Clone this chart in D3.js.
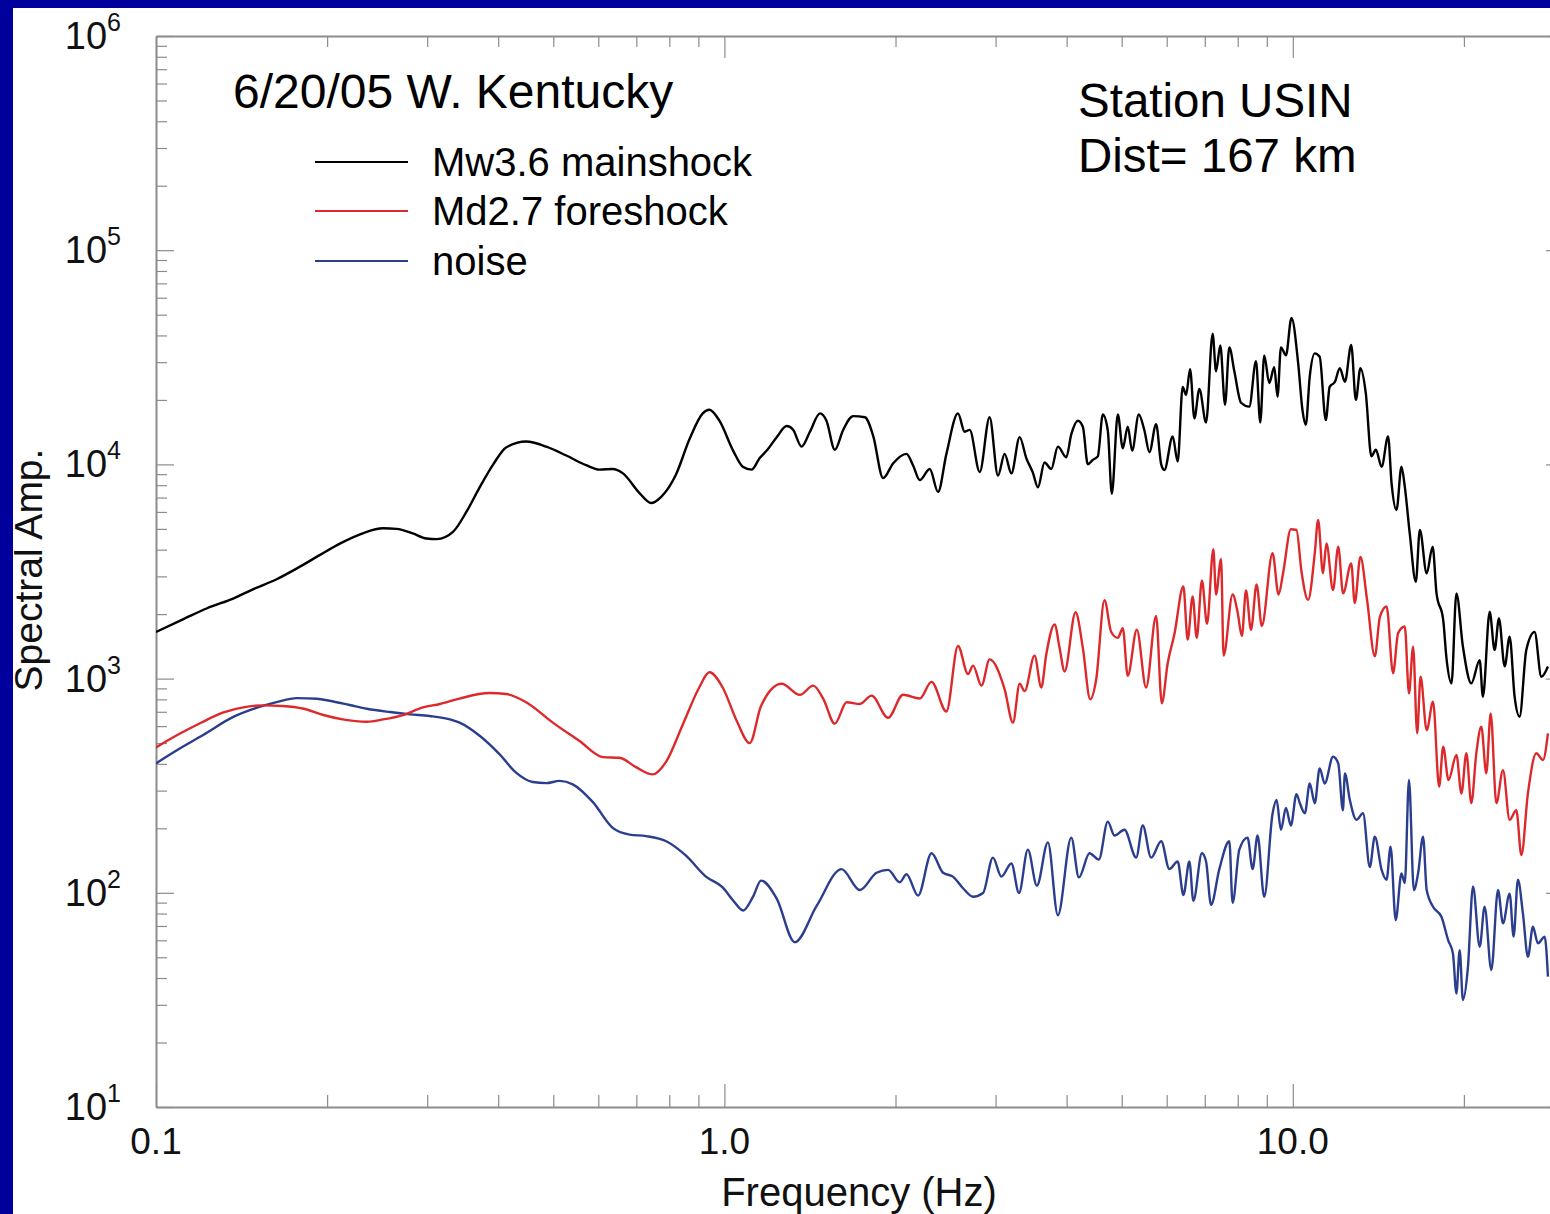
<!DOCTYPE html>
<html><head><meta charset="utf-8">
<script src="https://cdn.jsdelivr.net/npm/d3@7"></script>
<style>html,body{margin:0;padding:0;background:#00009c;overflow:hidden;} svg{display:block;}</style>
</head><body>
<svg id="chart" width="1550" height="1214"></svg>
<script>
// ---------- data (frequency in Hz, spectral amplitude) ----------
const mainFreq = [0.100,0.112,0.123,0.137,0.148,0.163,0.177,0.194,0.211,0.231,
0.251,0.265,0.283,0.299,0.312,0.333,0.352,0.371,0.392,0.413,
0.448,0.486,0.527,0.571,0.603,0.636,0.663,0.709,0.743,0.774,
0.822,0.868,0.916,0.941,0.980,1.036,1.079,1.116,1.154,1.187,
1.236,1.287,1.321,1.367,1.414,1.473,1.512,1.564,1.618,1.685,
1.767,1.827,1.902,1.980,2.091,2.147,2.206,2.298,2.376,2.458,
2.576,2.647,2.701,2.813,2.928,3.029,3.112,3.198,3.307,3.397,
3.489,3.561,3.658,3.759,3.861,3.995,4.076,4.187,4.272,4.359,
4.448,4.539,4.632,4.726,4.804,4.922,5.022,5.124,5.216,5.358,
5.482,5.594,5.748,5.868,5.944,6.147,6.273,6.401,6.490,6.596,
6.712,6.849,7.037,7.227,7.327,7.455,7.599,7.732,7.891,8.108,
8.383,8.615,8.765,8.907,9.089,9.276,9.400,9.531,9.725,9.947,
10.22,10.40,10.54,10.71,10.93,11.15,11.43,11.61,11.86,12.10,
12.35,12.67,12.91,13.15,13.44,13.75,14.00,14.33,14.71,14.92,
15.22,15.53,15.74,16.06,16.46,16.73,17.20,17.62,17.90,18.39,
18.64,19.02,19.40,19.92,20.61,21.32,21.60,22.20,22.65,23.05,
23.59,24.07,24.56,25.06,25.75,26.63,27.37,28.11];
const mainAmp = [1650,1900,2130,2370,2610,2910,3270,3770,4280,4770,
5030,5000,4760,4510,4480,4840,6030,7810,10000,12000,
12800,12100,11000,9910,9450,9520,9080,7350,6600,7060,
8980,13100,17300,18000,16000,11600,9720,9450,10700,11600,
13400,15100,14500,12100,14200,17300,16000,11700,14500,16800,
16600,13600,8630,10100,11200,9910,8450,9520,7440,11200,
17300,14200,14500,9220,16600,8860,11200,9080,13400,10700,
9150,7810,10200,9520,12100,10800,13800,16000,15000,10000,
10500,10900,17100,14400,7300,17100,11900,15000,11600,17100,
14400,11400,15400,10000,9410,13500,10300,23000,21100,27800,
16400,22500,15700,40800,27200,35900,19000,35200,27200,19400,
18600,30300,15700,32300,24000,28400,20700,35200,32300,48300,
29600,17900,15300,25700,33000,31800,16100,23000,24300,28100,
24300,36100,20000,28100,21500,10900,11700,9750,13500,8160,
6120,9750,7870,4760,2830,4940,3100,4130,2500,1880,
1240,950,2500,1410,950,1220,823,2050,1360,1910,
1140,1570,823,664,1360,1650,1020,1140];

const foreFreq = [0.100,0.109,0.120,0.131,0.144,0.154,0.167,0.182,0.197,0.213,
0.235,0.251,0.272,0.295,0.316,0.342,0.386,0.413,0.448,0.499,
0.556,0.611,0.654,0.699,0.748,0.790,0.845,0.903,0.941,0.993,
1.051,1.108,1.160,1.261,1.358,1.433,1.492,1.564,1.641,1.731,
1.815,1.941,2.062,2.206,2.314,2.458,2.576,2.683,2.738,2.833,
2.928,3.112,3.219,3.307,3.374,3.513,3.610,3.684,3.810,3.888,
3.967,4.148,4.272,4.401,4.509,4.663,4.792,4.922,5.022,5.124,
5.316,5.520,5.748,5.882,6.024,6.190,6.419,6.532,6.665,6.776,
6.920,7.065,7.247,7.327,7.478,7.555,7.836,7.997,8.135,8.273,
8.442,8.636,8.820,9.212,9.439,9.616,9.923,10.15,10.36,10.64,
10.93,11.08,11.30,11.46,11.77,12.02,12.26,12.67,12.85,13.15,
13.51,13.94,14.23,14.62,15.01,15.32,15.74,16.01,16.28,16.55,
16.78,17.20,17.65,18.09,18.39,18.79,19.40,19.80,20.20,20.61,
21.03,21.46,21.90,22.29,22.81,23.43,24.07,24.73,25.24,25.92,
26.82,27.55,28.11];
const foreAmp = [477,545,622,693,738,750,745,723,676,645,
629,645,676,734,761,807,856,847,776,623,
511,430,427,386,357,410,611,909,1070,909,
636,500,745,946,840,927,807,616,776,761,
833,656,840,807,965,702,1420,1050,1150,927,
1230,891,623,946,874,1280,909,1300,1790,1390,
1080,2040,1390,801,991,2320,1650,1550,1720,1030,
1690,909,1960,767,1180,1610,2690,1520,2420,1550,
2870,1800,4020,2470,3620,1280,2470,2040,1580,2580,
1690,2750,1760,3850,2470,3120,4980,4940,3150,2330,
3840,5500,3100,4280,2590,4130,2500,3450,2250,3700,
2330,1270,1940,2170,1060,1630,1750,853,1410,555,
1020,575,780,313,481,336,440,291,448,262,
448,596,361,688,262,374,219,243,150,291,
448,417,555];

const noiseFreq = [0.100,0.109,0.121,0.137,0.152,0.163,0.177,0.192,0.202,0.219,
0.235,0.258,0.280,0.303,0.329,0.342,0.371,0.402,0.430,0.460,
0.486,0.513,0.541,0.587,0.636,0.681,0.728,0.790,0.856,0.928,
0.993,1.036,1.079,1.123,1.160,1.236,1.330,1.453,1.607,1.731,
1.852,1.941,2.035,2.091,2.191,2.314,2.425,2.524,2.629,2.738,
2.851,2.968,3.071,3.198,3.298,3.419,3.546,3.708,3.861,4.076,
4.204,4.389,4.558,4.726,4.856,5.056,5.302,5.445,5.633,5.868,
6.065,6.273,6.419,6.577,6.684,6.920,7.037,7.180,7.426,7.732,
7.836,8.052,8.326,8.497,8.670,8.907,9.212,9.363,9.531,9.725,
9.923,10.15,10.29,10.50,10.71,10.93,11.15,11.38,11.77,12.02,
12.25,12.35,12.60,12.94,13.29,13.66,13.94,14.33,14.62,14.86,
15.17,15.53,15.74,16.01,16.33,16.61,16.95,17.20,17.65,18.26,
18.76,19.13,19.40,19.66,19.92,20.33,20.75,21.32,21.75,22.35,
22.96,23.43,24.07,24.46,24.89,25.40,25.92,26.45,26.99,27.74,
28.11];
const noiseAmp = [402,464,545,664,738,777,811,805,788,753,
723,698,681,669,645,623,541,444,364,329,
325,333,321,265,201,187,184,174,149,119,
106,92.1,82.7,95.9,114,94.0,58.8,86.8,129,103,
124,128,112,122,97.0,153,124,119,105,95.9,
99.8,146,119,137,99.8,159,108,172,78.6,181,
118,153,143,215,185,197,146,206,146,174,
129,140,97.7,140,91.7,153,140,87.9,129,174,
89.8,159,181,129,185,95.7,234,271,197,249,
206,289,262,235,324,262,381,324,432,402,
243,361,271,219,235,132,183,128,115,164,
74.6,123,111,336,103,123,183,103,86.1,77.3,
60.2,52.1,33.9,54.0,31.6,45.1,107,56.0,86.1,43.6,
103,72.0,99.1,62.4,115,80.2,50.3,69.4,58.1,62.4,
40.6];

const seriesNames = ["Mw3.6 mainshock", "Md2.7 foreshock", "noise"];
const seriesColors = ["#000000", "#dc2a2c", "#2b3e8e"];
const xMajorTicks = [0.1, 1, 10];
const xTickLabels = ["0.1", "1.0", "10.0"];
const xMinorTicks = [0.2,0.3,0.4,0.5,0.6,0.7,0.8,0.9,2,3,4,5,6,7,8,9,20];
const yMajorTicks = [1e1, 1e2, 1e3, 1e4, 1e5, 1e6];
const yTickExponents = ["1","2","3","4","5","6"];
const yMinorMantissas = [2,3,4,5,6,7,8,9];

// ---------- drawing ----------
const W = 1550, H = 1214;
const FONT = "'Liberation Sans', Arial, Helvetica, sans-serif";
const svg = d3.select("#chart");
svg.append("rect").attr("width", W).attr("height", H).attr("fill", "#00009c");
svg.append("rect").attr("x", 13).attr("y", 8).attr("width", W - 13).attr("height", H - 8).attr("fill", "#ffffff");

const x = d3.scaleLog().domain([0.1, 30]).range([156, 1564]);
const y = d3.scaleLog().domain([10, 1e6]).range([1107, 36]);

const yMinorTicks = [];
[10, 100, 1e3, 1e4, 1e5].forEach(d => yMinorMantissas.forEach(m => yMinorTicks.push(d * m)));

const AX = "#8c8c8c";
function makeAxis(factory, scale, minor, major, tx, ty, majorLen, minorLen) {
  const gMin = svg.append("g").attr("transform", `translate(${tx},${ty})`)
    .call(factory(scale).tickValues(minor).tickSizeInner(-minorLen).tickSizeOuter(0).tickFormat(""));
  gMin.select(".domain").remove();
  const gMaj = svg.append("g").attr("transform", `translate(${tx},${ty})`)
    .call(factory(scale).tickValues(major).tickSizeInner(-majorLen).tickSizeOuter(0).tickFormat(""));
  gMaj.select(".domain").attr("stroke", AX).attr("stroke-width", 2);
  [gMin, gMaj].forEach(g => g.selectAll(".tick line").attr("stroke", AX).attr("stroke-width", 1.2));
}
makeAxis(d3.axisBottom, x, xMinorTicks, xMajorTicks, 0, 1107, 23, 12);
makeAxis(d3.axisTop, x, xMinorTicks, xMajorTicks, 0, 36, 22, 11);
makeAxis(d3.axisLeft, y, yMinorTicks, yMajorTicks, 156, 0, 18, 11);
makeAxis(d3.axisRight, y, yMinorTicks, yMajorTicks, 1564, 0, 18, 11);

// tick labels
svg.append("g").selectAll("text").data(xMajorTicks).join("text")
  .attr("x", d => x(d)).attr("y", 1154)
  .attr("text-anchor", "middle").attr("font-family", FONT).attr("font-size", 37).attr("fill", "#111")
  .text((d, i) => xTickLabels[i]);

const yl = svg.append("g").selectAll("text").data(yMajorTicks).join("text")
  .attr("x", 121).attr("y", d => y(d) + 13)
  .attr("text-anchor", "end").attr("font-family", FONT).attr("fill", "#111");
yl.append("tspan").attr("font-size", 38).text("10");
yl.append("tspan").attr("font-size", 25).attr("dy", -18).text((d, i) => yTickExponents[i]);

// axis titles
svg.append("text").attr("x", 859).attr("y", 1206).attr("text-anchor", "middle")
  .attr("font-family", FONT).attr("font-size", 40).attr("fill", "#111").text("Frequency (Hz)");
svg.append("text").attr("transform", "translate(42,570) rotate(-90)").attr("text-anchor", "middle")
  .attr("font-family", FONT).attr("font-size", 39).attr("fill", "#111").text("Spectral Amp.");

// curves
svg.append("clipPath").attr("id", "plotclip").append("rect")
  .attr("x", 156).attr("y", 36).attr("width", 1564 - 156).attr("height", 1107 - 36);
const line = d3.line().x(d => x(d[0])).y(d => y(d[1])).curve(d3.curveMonotoneX);
const series = [
  d3.zip(noiseFreq, noiseAmp),
  d3.zip(foreFreq, foreAmp),
  d3.zip(mainFreq, mainAmp)
];
const colorOrder = [seriesColors[2], seriesColors[1], seriesColors[0]];
svg.append("g").attr("clip-path", "url(#plotclip)").selectAll("path").data(series).join("path")
  .attr("d", line).attr("fill", "none").attr("stroke", (d, i) => colorOrder[i])
  .attr("stroke-width", 2.4).attr("stroke-linejoin", "round");

// annotations
svg.append("text").attr("x", 233).attr("y", 108).attr("font-family", FONT).attr("font-size", 48)
  .attr("fill", "#000").text("6/20/05 W. Kentucky");
svg.append("text").attr("x", 1078).attr("y", 117).attr("font-family", FONT).attr("font-size", 47.5)
  .attr("fill", "#000").text("Station USIN");
svg.append("text").attr("x", 1078).attr("y", 172).attr("font-family", FONT).attr("font-size", 47.5)
  .attr("fill", "#000").text("Dist= 167 km");

// legend
const legY = [162, 211, 261];
const leg = svg.append("g").selectAll("g").data(seriesNames).join("g");
leg.append("line").attr("x1", 315).attr("x2", 408).attr("y1", (d, i) => legY[i]).attr("y2", (d, i) => legY[i])
  .attr("stroke", (d, i) => seriesColors[i]).attr("stroke-width", 2);
leg.append("text").attr("x", 432).attr("y", (d, i) => legY[i] + 14).attr("font-family", FONT)
  .attr("font-size", 40).attr("fill", "#000").text(d => d);
</script>
</body></html>
